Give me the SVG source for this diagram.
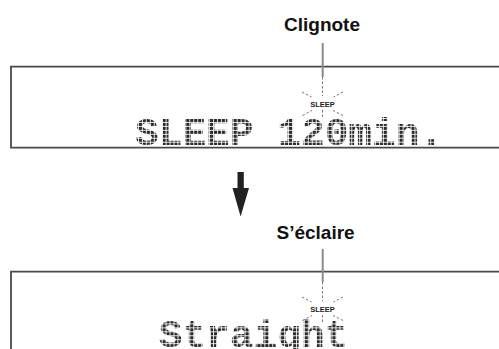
<svg xmlns="http://www.w3.org/2000/svg" width="499" height="349" viewBox="0 0 499 349">
<style>
.lbl{font-family:"Liberation Sans",Arial,sans-serif;font-weight:bold;font-size:19px;fill:#111;}
.ind{font-family:"Liberation Sans",Arial,sans-serif;font-weight:bold;font-size:7.5px;fill:#222;text-anchor:middle;}
.lcd{font-family:"Liberation Mono","DejaVu Sans Mono",monospace;font-weight:bold;font-size:39.5px;fill:#2a2a2a;}
.box{fill:none;stroke:#4a4a4a;stroke-width:1.8;}
.lead{stroke:#8a8a8a;stroke-width:2;fill:none;}
.ray{stroke:#777;stroke-width:1;stroke-dasharray:2.5 2;fill:none;}
</style>
<defs>
<pattern id="dots1" x="135" y="119" width="3.95" height="3.95" patternUnits="userSpaceOnUse"><rect width="3.1" height="3.1" fill="#fff"/></pattern>
<mask id="m1"><rect x="0" y="0" width="499" height="349" fill="url(#dots1)"/></mask>
<g id="burst">
<path class="ray" d="M322.5 77 V96 M322.5 110 V119 M302 92 L311.5 97 M343 92 L333.5 97 M302.5 115.5 L312 110.5 M343 115.5 L333 110.5"/>
<text class="ind" x="322.5" y="106.5">SLEEP</text>
</g>
</defs>

<g id="label-clignote">
<text class="lbl" x="322" y="31" text-anchor="middle">Clignote</text>
</g>

<g id="display-top">
<path class="box" d="M505 66.7 H11 V147.7 H505"/>
<use href="#burst"/>
<g mask="url(#m1)"><text class="lcd" x="135" y="145">SLEEP 120min.</text></g>
</g>

<g id="label-seclaire">
<text class="lbl" x="276.5" y="238.5">S’éclaire</text>
</g>

<g id="display-bottom">
<path class="box" d="M505 271.7 H11 V355"/>
<use href="#burst" transform="translate(0,205)"/>
<g mask="url(#m1)"><text class="lcd" x="158.7" y="347">Straight</text></g>
</g>

<g id="connectors">
<line class="lead" x1="322.7" y1="43" x2="322.7" y2="77"/>
<line class="lead" x1="322.7" y1="249" x2="322.7" y2="282"/>
<path d="M237.5 172 H243.8 V188 H249 L240.6 216.5 L232.5 188 H237.5 Z" fill="#222"/>
</g>
</svg>
